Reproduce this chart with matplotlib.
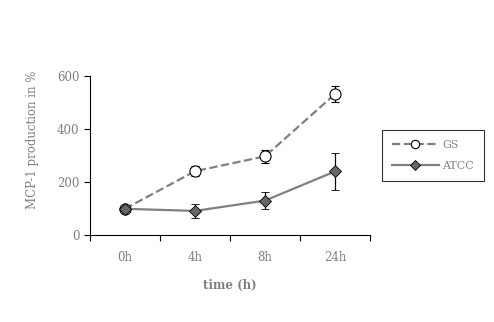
import matplotlib
matplotlib.use("agg")
import numpy as np
import matplotlib.pyplot as plt
from matplotlib.lines import Line2D

plt.rcParams['font.family'] = ['DejaVu Serif']

times = ['0h', '4h', '8h', '24h']
gs = [100, 242, 298, 533]
gs_err = [0, 20, 24, 30]
atcc = [100, 92, 131, 241]
atcc_err = [0, 25, 31, 69]

grey = '#808080'
fig = plt.figure(figsize=(4.94, 3.22), dpi=100)
ax = fig.add_axes([90/494, 1-235.3/322, 280/494, 159/322])

x = np.arange(len(times))
ax.errorbar(x, gs, yerr=gs_err, color=grey, linestyle='--', linewidth=1.6,
            marker='o', markersize=8, markerfacecolor='white', markeredgecolor='black',
            markeredgewidth=0.8, ecolor='black', elinewidth=0.9, capsize=3)
ax.errorbar(x, atcc, yerr=atcc_err, color=grey, linestyle='-', linewidth=1.6,
            marker='D', markersize=6.5, markerfacecolor='#666666', markeredgecolor='black',
            markeredgewidth=0.6, ecolor='black', elinewidth=0.9, capsize=3)

ax.set_xlim(-0.5, 3.5)
ax.set_ylim(0, 600)
ax.set_yticks([0, 200, 400, 600])
ax.set_xticks(np.arange(-0.5, 4, 1))
ax.set_xticklabels([])
ax.set_xticks(x, minor=True)
ax.set_xticklabels(times, minor=True)
ax.tick_params(axis='x', which='major', direction='out', length=4, width=0.8)
ax.tick_params(axis='x', which='minor', length=0, pad=11, labelsize=8.5, labelcolor=grey)
ax.tick_params(axis='y', direction='out', length=4, width=0.8, labelsize=8.5, labelcolor=grey)
for s in ['top', 'right']:
    ax.spines[s].set_visible(False)
ax.set_ylabel('MCP-1 production in %', color=grey, fontsize=8.5)
ax.yaxis.set_label_coords(-0.183, 0.6)
ax.set_xlabel('time (h)', color=grey, fontsize=8.5, fontweight='bold', labelpad=11)

handles = [
    Line2D([], [], color=grey, linestyle='--', linewidth=1.6, marker='o', markersize=6,
           markerfacecolor='white', markeredgecolor='black', markeredgewidth=0.8),
    Line2D([], [], color=grey, linestyle='-', linewidth=1.6, marker='D', markersize=5,
           markerfacecolor='#666666', markeredgecolor='black', markeredgewidth=0.6),
]
leg = fig.legend(handles, ['GS', 'ATCC'], loc='upper left', bbox_to_anchor=(382/494, 1-130/322),
                 frameon=True, fancybox=False, fontsize=8, labelcolor=grey, handlelength=4.2,
                 handletextpad=0.3, borderpad=0.9, labelspacing=1.0, borderaxespad=0)
leg.get_frame().set_edgecolor('black')
leg.get_frame().set_linewidth(0.8)

fig.savefig('out.png', dpi=100)
